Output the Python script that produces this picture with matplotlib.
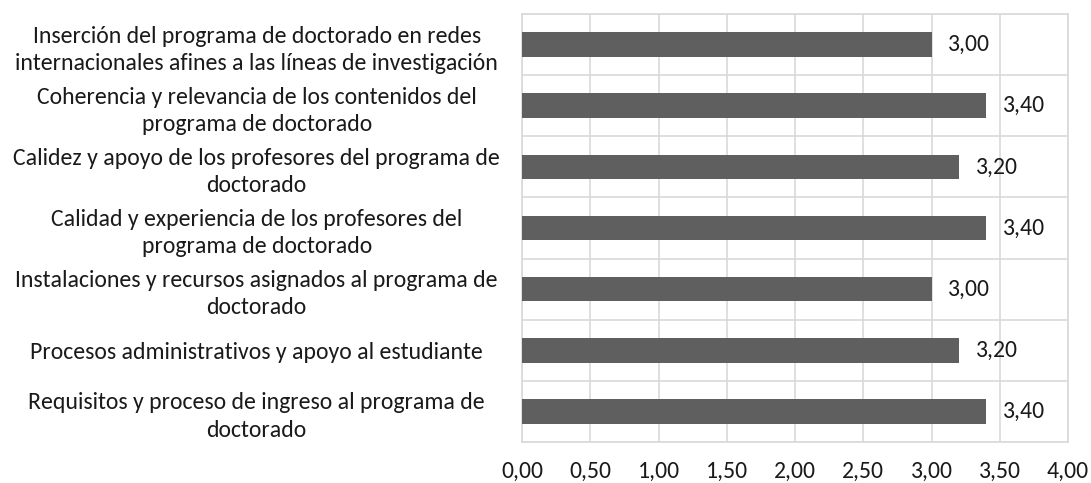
import matplotlib
matplotlib.use("Agg")
import matplotlib.pyplot as plt
import matplotlib.transforms as mtrans
from matplotlib import font_manager

categories = [
    "Requisitos y proceso de ingreso al programa de\ndoctorado",
    "Procesos administrativos y apoyo al estudiante",
    "Instalaciones y recursos asignados al programa de\ndoctorado",
    "Calidad y experiencia de los profesores del\nprograma de doctorado",
    "Calidez y apoyo de los profesores del programa de\ndoctorado",
    "Coherencia y relevancia de los contenidos del\nprograma de doctorado",
    "Inserción del programa de doctorado en redes\ninternacionales afines a las líneas de investigación",
]
values = [3.40, 3.20, 3.00, 3.40, 3.20, 3.40, 3.00]
xticks = [0.0, 0.5, 1.0, 1.5, 2.0, 2.5, 3.0, 3.5, 4.0]

avail = {f.name for f in font_manager.fontManager.ttflist}
for fam in ["Carlito", "Lato", "Open Sans", "DejaVu Sans"]:
    if fam in avail:
        plt.rcParams["font.family"] = fam
        break

FS = 17.1
TC = "#1a1a1a"

def fmt(v):
    return f"{v:.2f}".replace(".", ",")

W, H = 1091, 483
fig = plt.figure(figsize=(W / 100, H / 100), dpi=100)
ax = fig.add_axes([522 / W, 1 - 442 / H, (1068 - 522) / W, (442 - 14) / H])

pos = list(range(len(categories)))
ax.barh(pos, values, height=0.4, color="#5f5f5f", zorder=3)
ax.set_xlim(0, 4)
ax.set_ylim(-0.5, len(categories) - 0.5)
ax.set_xticks(xticks)
ax.set_xticklabels([fmt(t) for t in xticks], fontsize=FS, color=TC)
ax.set_yticks(pos)
ax.set_yticklabels(categories, fontsize=FS, color=TC, ha="center",
                   linespacing=1.37)
ax.tick_params(axis="y", length=0, pad=0)
ax.tick_params(axis="x", length=0, pad=13.5)

fig.canvas.draw()
renderer = fig.canvas.get_renderer()
maxw = max(l.get_window_extent(renderer).width for l in ax.get_yticklabels())
off_px = 22 + maxw / 2
shift = mtrans.ScaledTranslation(-off_px / 100, 0, fig.dpi_scale_trans)
for lab in ax.get_yticklabels():
    lab.set_horizontalalignment("center")
    lab.set_transform(lab.get_transform() + shift)

ax.grid(axis="x", color="#d9d9d9", linewidth=1.2, zorder=0)
for b in range(len(categories) + 1):
    ax.axhline(b - 0.5, color="#d9d9d9", linewidth=1.2, zorder=0)
for s in ax.spines.values():
    s.set_color("#d9d9d9")
    s.set_linewidth(1.2)

for p, v in zip(pos, values):
    ax.annotate(fmt(v), (v, p), xytext=(12, 0), textcoords="offset points",
                va="center", ha="left", fontsize=FS, color=TC)

fig.savefig("out.png", dpi=100)
